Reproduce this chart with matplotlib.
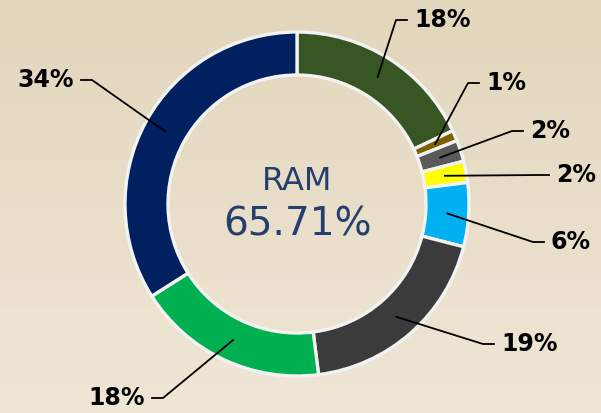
import matplotlib
matplotlib.use("Agg")
import matplotlib.pyplot as plt
import numpy as np
from matplotlib.colors import LinearSegmentedColormap

# share of RAM, clockwise from the top
labels = ["18%", "1%", "2%", "2%", "6%", "19%", "18%", "34%"]
values = [18, 1, 2, 2, 6, 19, 18, 34]
colors = ["#375623", "#7f6000", "#595959", "#ffff00",
          "#00b0f0", "#3b3b3b", "#00b050", "#002060"]
center_title = "RAM"
center_value = "65.71%"

# where each label's leader line bends (pixels, y from top) and which side
elbows = [(396, 20), (468, 83), (512, 131), (538, 175),
          (533, 242), (483, 344), (163, 398), (92, 80)]
sides = [1, 1, 1, 1, 1, 1, -1, -1]

W, H = 601, 413
cx, cy = 297, 209
R = 172
ring = 0.25

fig = plt.figure(figsize=(W / 100, H / 100), dpi=100)

# background gradient
bg = fig.add_axes([0, 0, 1, 1])
cmap = LinearSegmentedColormap.from_list("bg", ["#e2d6bc", "#efe6d6"])
grad = np.linspace(0, 1, 256).reshape(-1, 1)
bg.imshow(grad, cmap=cmap, aspect="auto", extent=[0, 1, 0, 1])
bg.axis("off")

ax = fig.add_axes([0, 0, 1, 1])
ax.set_facecolor("none")

wedges, _ = ax.pie(values, colors=colors, startangle=90, counterclock=False,
                   center=(cx, cy), radius=R, frame=True,
                   wedgeprops=dict(width=R * ring, edgecolor="#f2f2f2", linewidth=2.4))
ax.set_xlim(0, W)
ax.set_ylim(0, H)
ax.set_aspect("equal")
ax.axis("off")

r_mid = R * (1 - ring / 2)
for w, lab, (ex, ey), s in zip(wedges, labels, elbows, sides):
    ang = np.deg2rad((w.theta1 + w.theta2) / 2)
    ax_x = cx + r_mid * np.cos(ang)
    ax_y = cy + r_mid * np.sin(ang)
    ey = H - ey
    ax.plot([ax_x, ex, ex + 11 * s], [ax_y, ey, ey], color="black", lw=1.3)
    ax.text(ex + 18 * s, ey, lab, ha="left" if s > 0 else "right", va="center",
            fontsize=17, fontweight="bold", color="black")

ax.text(cx, H - 182, center_title, ha="center", va="center", fontsize=23, color="#243f6e")
ax.text(cx, H - 225, center_value, ha="center", va="center", fontsize=28, color="#243f6e")

fig.savefig("out.png", dpi=100)
